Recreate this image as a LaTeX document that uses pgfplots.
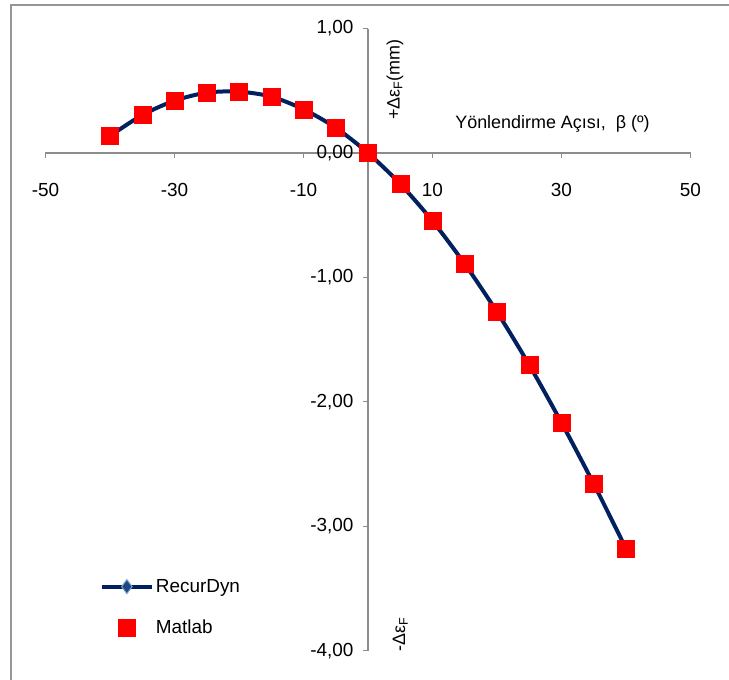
\documentclass[border=0pt]{standalone}
\usepackage{pgfplots}
\pgfplotsset{compat=1.18}
\usepackage{fontspec}
\setmainfont{Liberation Sans}
\definecolor{navy}{RGB}{0,32,96}
\definecolor{diafill}{RGB}{31,73,125}
\definecolor{diaedge}{RGB}{120,160,215}
\definecolor{axgray}{RGB}{140,140,140}
\definecolor{framegray}{RGB}{150,150,150}
\pgfplotsset{
  linelegend/.style={legend image code/.code={\draw[##1, mark repeat=2, mark phase=2] plot coordinates {(0bp,0bp) (25bp,0bp) (50bp,0bp)};}},
  marklegend/.style={legend image code/.code={\draw[##1] plot coordinates {(25bp,0bp)};}},
}
\pgfplotstableread{
x y
-40 0.137
-35 0.305
-30 0.420
-25 0.485
-20 0.493
-15 0.453
-10 0.351
-5 0.203
0 0.000
5 -0.249
10 -0.547
15 -0.892
20 -1.278
25 -1.704
30 -2.168
35 -2.660
40 -3.180
}\recurdyn
\pgfplotstableread{
x y
-40 0.137
-35 0.305
-30 0.420
-25 0.485
-20 0.493
-15 0.453
-10 0.351
-5 0.203
0 0.000
5 -0.249
10 -0.547
15 -0.892
20 -1.278
25 -1.704
30 -2.168
35 -2.660
40 -3.180
}\matlab
\begin{document}
\begin{tikzpicture}
\path[use as bounding box] (-368bp,-527bp) rectangle (361bp,153bp);
\draw[framegray, line width=1.5bp] (-357bp,-530bp) -- (-357bp,148bp) -- (365bp,148bp);
\begin{axis}[
  anchor=origin, at={(0,0)},
  scale only axis, width=645bp, height=622bp,
  axis lines=middle,
  axis line style={-, axgray, line width=1.2bp},
  xmin=-50, xmax=50, ymin=-4, ymax=1,
  xtick={-50,-30,-10,10,30,50},
  xticklabels={-50,-30,-10,10,30,50},
  ytick={-4,-3,-2,-1,0,1},
  yticklabels={{-4,00},{-3,00},{-2,00},{-1,00},{0,00},{1,00}},
  hide obscured x ticks=false, hide obscured y ticks=false,
  tick align=outside, major tick length=5bp,
  tick style={axgray, line width=1.2bp},
  ticklabel style={font=\fontsize{19}{22}\selectfont},
  xticklabel style={yshift=-22bp},
  yticklabel style={xshift=-6bp},
  clip=false,
  legend style={at={(axis cs:-41.6,-3.41)}, anchor=north west, draw=none, fill=none,
    font=\fontsize{19}{22}\selectfont, row sep=22bp, inner sep=0pt},
  legend cell align=left,
]
\addplot[navy, line width=4bp, smooth, mark=diamond*, mark size=7bp,
  mark options={fill=diafill, draw=diaedge, line width=1bp}, linelegend]
  table[x=x,y=y] {\recurdyn};
\addlegendentry{RecurDyn}
\addplot[only marks, mark=square*, mark size=8.5bp, draw=red, fill=red, color=red, marklegend]
  table[x=x,y=y] {\matlab};
\addlegendentry{Matlab}
\node[rotate=90, font=\fontsize{18}{22}\selectfont] at (axis cs:4.2,0.59) {+Δε\textsubscript{F}(mm)};
\node[rotate=90, font=\fontsize{18}{22}\selectfont] at (axis cs:5.0,-3.87) {-Δε\textsubscript{F}};
\node[font=\fontsize{18}{22}\selectfont] at (axis cs:28.6,0.23) {Yönlendirme Açısı,\ \ β (º)};
\end{axis}
\end{tikzpicture}
\end{document}
